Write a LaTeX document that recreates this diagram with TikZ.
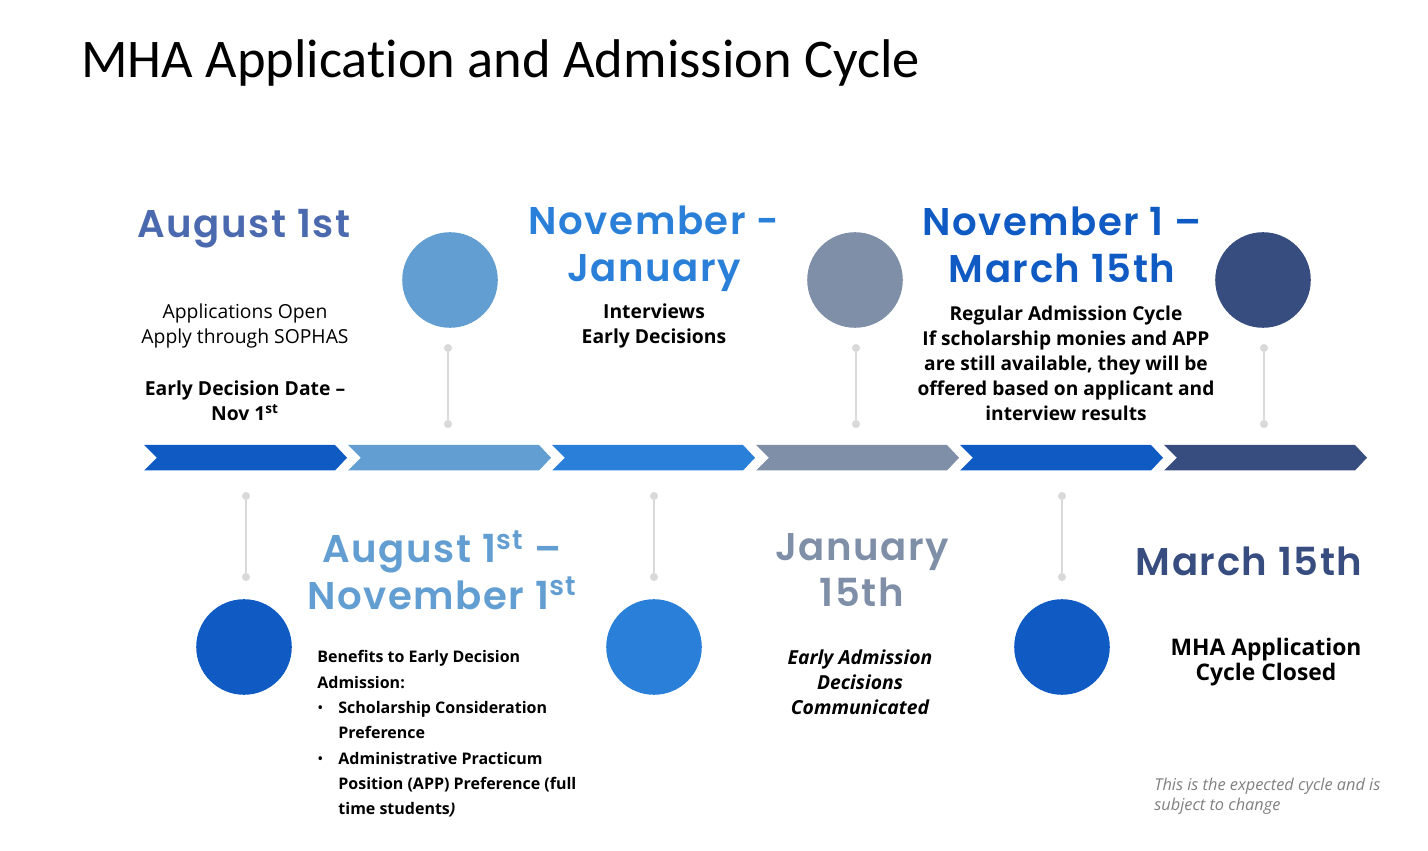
\documentclass[tikz,border=0pt]{standalone}
\usepackage{fontspec}
\setmainfont{Open Sans}
\newfontfamily\titlefont{Carlito}[Ligatures=NoCommon]
\newfontfamily\headfont{Poppins}[UprightFont=*-SemiBold, LetterSpace=4]
\usetikzlibrary{positioning}

\definecolor{cDeep}{HTML}{0F5AC3}
\definecolor{cSky}{HTML}{629ED1}
\definecolor{cBright}{HTML}{2A80D9}
\definecolor{cSlate}{HTML}{808FA8}
\definecolor{cNavy}{HTML}{374D80}
\definecolor{cAug}{HTML}{4A69AE}
\definecolor{cPin}{HTML}{D9D9D9}
\definecolor{cNote}{HTML}{808080}

\tikzset{
  head/.style={font=\headfont\fontsize{22}{26.5}\selectfont, align=center, inner sep=0pt},
  body/.style={font=\fontsize{11}{14.2}\selectfont, align=center, inner sep=0pt},
  bodyb/.style={font=\bfseries\fontsize{11}{14.2}\selectfont, align=center, inner sep=0pt},
  disc/.style={circle, minimum size=54.4pt, inner sep=0pt, fill=#1},
  pin/.style={circle, minimum size=4.6pt, inner sep=0pt, fill=cPin},
  pinline/.style={draw=cPin, line width=1.2pt}
}

\begin{document}
\begin{tikzpicture}[x=0.02cm, y=-0.02cm]
\useasboundingbox (0,0) rectangle (1428,851);

% =====================
% Livelli verticali
% =====================
\def\BarTop{445}
\def\BarBot{470.5}
\def\BarMid{457.75}
\def\UpY{280}
\def\LowY{647}

% =====================
% Titolo
% =====================
\node[anchor=west, inner sep=0pt, font=\titlefont\fontsize{31}{38}\selectfont] (title) at (81,63) {MHA Application and Admission Cycle};

% =====================
% Frecce (chevron)
% =====================
\foreach \i/\col in {0/cDeep,1/cSky,2/cBright,3/cSlate,4/cDeep,5/cNavy} {
  \pgfmathsetmacro{\xa}{144+204*\i}
  \fill[\col] (\xa,\BarTop) -- (\xa+191,\BarTop) -- (\xa+203,\BarMid)
    -- (\xa+191,\BarBot) -- (\xa,\BarBot) -- (\xa+13,\BarMid) -- cycle;
}

% =====================
% Cerchi
% =====================
\node[disc=cSky]   (upA)  at (450,\UpY) {};
\node[disc=cSlate] (upB)  at (855,\UpY) {};
\node[disc=cNavy]  (upC)  at (1263,\UpY) {};
\node[disc=cDeep]  (lowA) at (244,\LowY) {};
\node[disc=cBright](lowB) at (654,\LowY) {};
\node[disc=cDeep]  (lowC) at (1062,\LowY) {};

% =====================
% Spilli
% =====================
\foreach \n/\x in {A/448,B/856,C/1264} {
  \node[pin] (upPinT\n) at (\x,348) {};
  \node[pin] (upPinB\n) at (\x,424) {};
  \draw[pinline] (upPinT\n) -- (upPinB\n);
}
\foreach \n/\x in {A/246,B/654,C/1062} {
  \node[pin] (lowPinT\n) at (\x,496) {};
  \node[pin] (lowPinB\n) at (\x,577) {};
  \draw[pinline] (lowPinT\n) -- (lowPinB\n);
}

% =====================
% Testi sopra
% =====================
\node[head, text=cAug] (augHead) at (244,229) {August 1st};
\node[body] (augOpen) at (245,326) {Applications Open\\Apply through SOPHAS};
\node[bodyb] (augEarly) at (245,401) {Early Decision Date –\\Nov 1\textsuperscript{st}};

\node[head, text=cBright] (novJanHead) at (654,249) {November -\\January};
\node[bodyb] (novJanText) at (654,326) {Interviews\\Early Decisions};

\node[head, text=cDeep] (novMarHead) at (1062,245) {November 1 –\\March 15th};
\node[bodyb, font=\bfseries\fontsize{10.9}{14.2}\selectfont] (novMarText) at (1066,363) {Regular Admission Cycle\\If scholarship monies and APP\\are still available, they will be\\offered based on applicant and\\interview results};

% =====================
% Testi sotto
% =====================
\node[head, text=cSky] (augNovHead) at (442,570) {August 1\textsuperscript{st} –\\November 1\textsuperscript{st}};
\node[bodyb, align=left, anchor=west, font=\bfseries\fontsize{9.1}{14.4}\selectfont] (benefits) at (317,734)
  {Benefits to Early Decision\\Admission:\\
   \makebox[12pt][l]{\mdseries\textbullet}Scholarship Consideration\\
   \hspace*{12pt}Preference\\
   \makebox[12pt][l]{\mdseries\textbullet}Administrative Practicum\\
   \hspace*{12pt}Position (APP) Preference (full\\
   \hspace*{12pt}time students\textit{)}};

\node[head, text=cSlate] (janHead) at (862,570) {January\\15th};
\node[bodyb, font=\bfseries\itshape\fontsize{11}{14.2}\selectfont] (janText) at (860,682) {Early Admission\\Decisions\\Communicated};

\node[head, text=cNavy] (marHead) at (1249,561) {March 15th};
\node[bodyb, font=\bfseries\fontsize{13}{14.2}\selectfont] (marText) at (1266,662) {MHA Application\\Cycle Closed};

\node[anchor=west, align=left, inner sep=0pt, text=cNote, font=\itshape\fontsize{9.3}{11.3}\selectfont] (note) at (1154,796) {This is the expected cycle and is\\subject to change};

\end{tikzpicture}
\end{document}
